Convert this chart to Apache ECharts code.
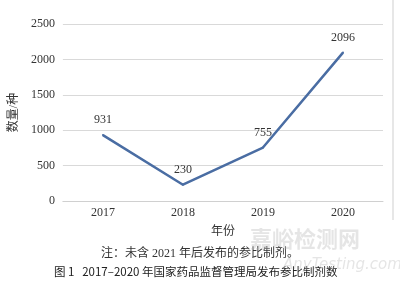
<!DOCTYPE html>
<html><head><meta charset="utf-8">
<script src="https://cdn.jsdelivr.net/npm/echarts@6/dist/echarts.min.js"></script>
<style>html,body{margin:0;padding:0;background:#fff}#c{width:400px;height:288px}</style>
</head><body><div id="c"></div>
<script>
const categories = ['2017','2018','2019','2020'];
const values = [931, 230, 755, 2096];
const yTicks = [0, 500, 1000, 1500, 2000, 2500];
const serif = '"Liberation Serif","Noto Sans CJK SC",serif';
const chart = echarts.init(document.getElementById('c'));
chart.setOption({
  animation: false,
  grid: {left: 60, right: 17, top: 24, bottom: 87},
  xAxis: {
    type: 'category', data: categories, boundaryGap: true,
    axisLine: {show: true, lineStyle: {color: '#d0d0d0'}},
    axisTick: {show: false},
    axisLabel: {color: '#333', fontFamily: serif, fontSize: 12, margin: 6},
    name: '年份', nameLocation: 'middle', nameGap: 25,
    nameTextStyle: {color: '#333', fontFamily: serif, fontSize: 12}
  },
  yAxis: {
    type: 'value', min: yTicks[0], max: yTicks[yTicks.length-1], interval: 500,
    axisLine: {show: false}, axisTick: {show: false},
    splitLine: {lineStyle: {color: '#d9d9d9'}},
    axisLabel: {color: '#333', fontFamily: serif, fontSize: 12, margin: 8, formatter: v => String(v)},
    name: '数量/种', nameLocation: 'middle', nameGap: 36, nameRotate: 90,
    nameTextStyle: {color: '#333', fontFamily: serif, fontSize: 12}
  },
  series: [{
    type: 'line', data: values, symbol: 'circle', symbolSize: 2, showSymbol: true,
    itemStyle: {color: '#4a6da3'},
    lineStyle: {color: '#4a6da3', width: 2.5},
    label: {show: true, position: 'top', distance: 8, color: '#333', fontFamily: serif, fontSize: 12}
  }],
  graphic: [
    {type: 'line', shape: {x1: 393, y1: 0, x2: 393, y2: 220}, style: {stroke: '#cfcfcf', lineWidth: 1}},
    {type: 'text', left: 'center', top: 248, style: {text: '注：未含 2021 年后发布的参比制剂。', font: '12px "Liberation Serif","Noto Sans CJK SC",serif', fill: '#333'}},
    {type: 'text', left: 54, top: 266, style: {text: '图 1   2017–2020 年国家药品监督管理局发布参比制剂数', font: '11.5px "Noto Sans CJK SC",sans-serif', fill: '#222'}},
    {type: 'text', left: 250, top: 228, style: {text: '嘉峪检测网', font: 'bold 22px "Noto Sans CJK SC",sans-serif', fill: 'rgba(180,180,180,0.35)'}},
    {type: 'text', left: 283, top: 258, style: {text: 'AnyTesting.com', font: 'italic 15px "DejaVu Sans",sans-serif', fill: 'rgba(180,180,180,0.35)'}}
  ]
});
</script></body></html>
